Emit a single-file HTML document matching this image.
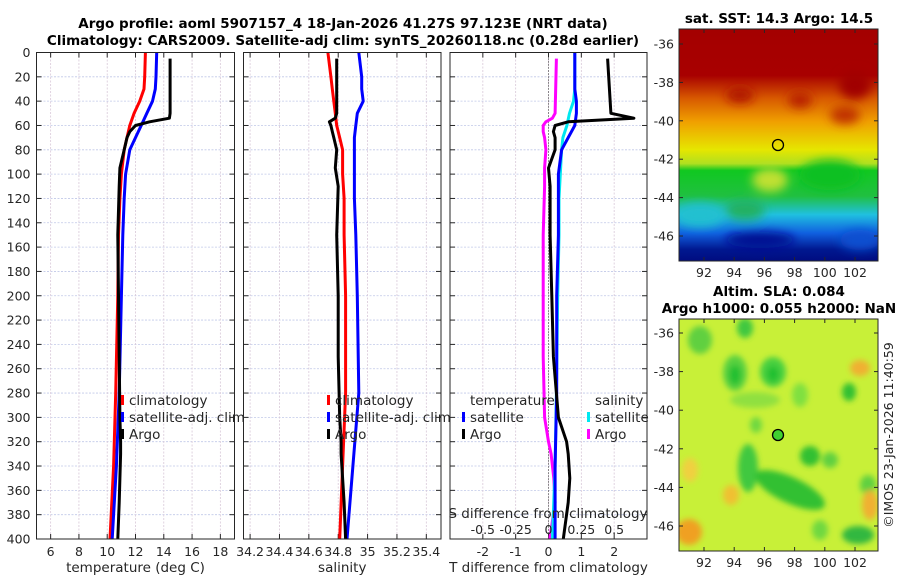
<!DOCTYPE html>
<html><head><meta charset="utf-8"><style>
body{margin:0;background:#fff;}
svg{display:block;font-family:"DejaVu Sans","Liberation Sans",sans-serif;}
.tk{font-size:12.5px;fill:#262626;}
.tt{font-size:13.5px;font-weight:bold;fill:#000;}
</style></head><body>
<svg id="c" width="900" height="580" viewBox="0 0 900 580">
<defs>
<filter id="bl"><feGaussianBlur stdDeviation="5"/></filter>
<filter id="bl2"><feGaussianBlur stdDeviation="3"/></filter>
<clipPath id="m1"><rect x="679" y="29" width="199" height="232"/></clipPath>
<clipPath id="m2"><rect x="679" y="319" width="199" height="232"/></clipPath>
<linearGradient id="sstg" x1="0" y1="0" x2="0" y2="1">
<stop offset="0" stop-color="#a40000"/><stop offset="0.2" stop-color="#a80000"/>
<stop offset="0.3" stop-color="#d85a00"/><stop offset="0.4" stop-color="#f0a000"/>
<stop offset="0.52" stop-color="#e6e600"/><stop offset="0.58" stop-color="#b0e020"/>
<stop offset="0.61" stop-color="#10c820"/><stop offset="0.72" stop-color="#20c040"/>
<stop offset="0.8" stop-color="#20c0e0"/><stop offset="0.88" stop-color="#1060e0"/>
<stop offset="0.95" stop-color="#001890"/><stop offset="1" stop-color="#000c80"/>
</linearGradient>
</defs>
<text class="tt" x="343" y="28" text-anchor="middle">Argo profile: aoml 5907157_4 18-Jan-2026 41.27S 97.123E (NRT data)</text>
<text class="tt" x="343" y="45" text-anchor="middle">Climatology: CARS2009. Satellite-adj clim: synTS_20260118.nc (0.28d earlier)</text>

<g id="map1">
<text class="tt" x="779" y="23" text-anchor="middle">sat. SST: 14.3 Argo: 14.5</text>
<g clip-path="url(#m1)">
<rect x="679" y="29" width="199" height="232" fill="url(#sstg)"/>
<g filter="url(#bl)">
<ellipse cx="740" cy="95" rx="14" ry="8" fill="#b01800"/>
<ellipse cx="800" cy="100" rx="12" ry="8" fill="#b82000"/>
<ellipse cx="855" cy="85" rx="16" ry="14" fill="#a00000"/>
<ellipse cx="845" cy="115" rx="15" ry="9" fill="#c03000"/>
<ellipse cx="830" cy="175" rx="30" ry="15" fill="#10c020"/>
<ellipse cx="770" cy="180" rx="18" ry="12" fill="#c0e030"/>
<ellipse cx="700" cy="215" rx="25" ry="12" fill="#20c0d0"/>
<ellipse cx="745" cy="210" rx="20" ry="10" fill="#20b060"/>
<ellipse cx="760" cy="240" rx="35" ry="8" fill="#001090"/>
<ellipse cx="860" cy="240" rx="20" ry="10" fill="#1050d0"/>
</g>
</g>
<rect x="679" y="29" width="199" height="232" fill="none" stroke="#262626"/>
<circle cx="778" cy="145" r="5.5" fill="none" stroke="#000" stroke-width="1.3"/>
</g>

<g id="map2">
<text class="tt" x="779" y="296" text-anchor="middle">Altim. SLA: 0.084</text>
<text class="tt" x="779" y="313" text-anchor="middle">Argo h1000: 0.055 h2000: NaN</text>
<g clip-path="url(#m2)">
<rect x="679" y="319" width="199" height="232" fill="#c8f038"/>
<g filter="url(#bl2)">
<ellipse cx="735" cy="373" rx="12" ry="18" fill="#58d040"/>
<ellipse cx="773" cy="372" rx="13" ry="15" fill="#48d040"/>
<ellipse cx="735" cy="375" rx="6" ry="10" fill="#20c030"/>
<ellipse cx="773" cy="374" rx="6" ry="8" fill="#20c030"/>
<ellipse cx="748" cy="468" rx="10" ry="24" fill="#40c840"/>
<ellipse cx="790" cy="490" rx="38" ry="13" fill="#30c030" transform="rotate(25 790 490)"/>
<ellipse cx="810" cy="456" rx="10" ry="10" fill="#30c030"/>
<ellipse cx="849" cy="392" rx="7" ry="9" fill="#30c030"/>
<ellipse cx="830" cy="460" rx="8" ry="8" fill="#60d040"/>
<ellipse cx="800" cy="395" rx="8" ry="12" fill="#80e040"/>
<ellipse cx="755" cy="400" rx="25" ry="8" fill="#90e040"/>
<ellipse cx="756" cy="425" rx="6" ry="8" fill="#70d840"/>
<ellipse cx="700" cy="340" rx="12" ry="14" fill="#60d040"/>
<ellipse cx="745" cy="328" rx="8" ry="10" fill="#40c840"/>
<ellipse cx="820" cy="530" rx="8" ry="10" fill="#70d840"/>
<ellipse cx="868" cy="485" rx="8" ry="10" fill="#60d040"/>
<ellipse cx="858" cy="535" rx="16" ry="9" fill="#30b840"/>
<ellipse cx="689" cy="532" rx="13" ry="13" fill="#f0a020"/>
<ellipse cx="860" cy="368" rx="10" ry="8" fill="#f0b030"/>
<ellipse cx="870" cy="505" rx="8" ry="15" fill="#f0b030"/>
<ellipse cx="731" cy="495" rx="8" ry="10" fill="#f0c030"/>
<ellipse cx="690" cy="470" rx="8" ry="12" fill="#f0d040"/>
</g>
</g>
<rect x="679" y="319" width="199" height="232" fill="none" stroke="#262626"/>
<circle cx="778" cy="435" r="5.5" fill="#40d030" stroke="#000" stroke-width="1.3"/>
<text class="tk" x="893" y="435" text-anchor="middle" transform="rotate(-90 893 435)">©IMOS 23-Jan-2026 11:40:59</text>
</g>
</svg>
<script>
// ---- data ----
const depthsClim = [0,20,30,40,50,60,70,80,100,120,150,200,280,340,400];
const tempClim   = [12.7,12.65,12.6,12.3,11.9,11.6,11.4,11.2,11.0,10.9,10.8,10.75,10.6,10.45,10.2];
const tempSat    = [13.5,13.45,13.4,13.2,12.8,12.4,12.0,11.6,11.3,11.2,11.1,11.0,10.85,10.65,10.35];
const depthsArgo = [5,50,54,57,60,65,70,80,95,110,150,200,250,300,320,330,350,370,400];
const tempArgo   = [14.45,14.45,14.4,13.0,12.0,11.6,11.4,11.2,10.9,10.85,10.75,10.8,10.85,10.9,10.95,10.95,10.9,10.85,10.75];
const salClim    = [34.73,34.75,34.76,34.77,34.78,34.79,34.81,34.83,34.83,34.84,34.84,34.85,34.85,34.83,34.81];
const salSat     = [34.94,34.96,34.96,34.97,34.93,34.92,34.91,34.91,34.91,34.91,34.92,34.93,34.94,34.9,34.86];
const salArgo    = [34.79,34.79,34.78,34.74,34.75,34.76,34.77,34.79,34.78,34.8,34.79,34.8,34.8,34.81,34.82,34.82,34.83,34.84,34.85];
const dTSat      = [0.8,0.8,0.8,0.85,0.85,0.8,0.6,0.4,0.3,0.3,0.3,0.25,0.25,0.2,0.2];
const dTArgo     = [1.8,1.9,2.6,0.6,0.2,0.15,0.2,0.2,0.0,0.05,0.05,0.1,0.15,0.3,0.55,0.6,0.65,0.6,0.45];
const dSSat      = [0.2,0.2,0.2,0.19,0.16,0.14,0.11,0.1,0.09,0.08,0.08,0.07,0.06,0.05,0.03];
const dSArgo     = [0.06,0.05,0.03,-0.02,-0.04,-0.04,-0.03,-0.02,-0.03,-0.03,-0.04,-0.04,-0.04,-0.03,0.0,0.02,0.04,0.05,0.01];
const depthTicks = [0,20,40,60,80,100,120,140,160,180,200,220,240,260,280,300,320,340,360,380,400];
const tempTicks  = [6,8,10,12,14,16,18];
const salTicks   = [34.2,34.4,34.6,34.8,35,35.2,35.4];
const dTTicks    = [-2,-1,0,1,2];
const dSTicks    = [-0.5,-0.25,0,0.25,0.5];
const mapLonTicks = [92,94,96,98,100,102];
const mapLatTicks = [-36,-38,-40,-42,-44,-46];

const NS='http://www.w3.org/2000/svg';
const svg=document.getElementById('c');
function mk(tag,attrs,parent){const e=document.createElementNS(NS,tag);for(const k in attrs)e.setAttribute(k,attrs[k]);(parent||svg).appendChild(e);return e;}
const Y0=52.5,Y1=539;
const yD=d=>Y0+(d/400)*(Y1-Y0);
const panels=[
 {x0:36.5,x1:234.5,lo:5,hi:19,ticks:tempTicks,label:'temperature (deg C)',name:'temperature'},
 {x0:243.5,x1:441,lo:34.155,hi:35.5,ticks:salTicks,label:'salinity',name:'salinity'},
 {x0:450,x1:647,lo:-3,hi:3,ticks:dTTicks,label:'T difference from climatology',name:'difference'}
];
panels.forEach((p,i)=>{
 p.sx=v=>p.x0+(v-p.lo)/(p.hi-p.lo)*(p.x1-p.x0);
 const g=mk('g',{});
 
 
 p.g=g;
 depthTicks.forEach(d=>{
  mk('line',{x1:p.x0,x2:p.x1,y1:yD(d),y2:yD(d),stroke:'#c0c8e8','stroke-width':0.8,'stroke-dasharray':'2,1.5'},g);
  mk('line',{x1:p.x0,x2:p.x0+5,y1:yD(d),y2:yD(d),stroke:'#262626'},g);
  mk('line',{x1:p.x1,x2:p.x1-5,y1:yD(d),y2:yD(d),stroke:'#262626'},g);
  if(i===0){const t=mk('text',{x:p.x0-6,y:yD(d)+4.5,'text-anchor':'end',class:'tk'},g);t.textContent=d;
   
   }
 });
 p.ticks.forEach(v=>{
  const x=p.sx(v);
  mk('line',{x1:x,x2:x,y1:Y0,y2:Y1,stroke:'#d8c8d8','stroke-width':0.8,'stroke-dasharray':'2,1.5'},g);
  mk('line',{x1:x,x2:x,y1:Y1,y2:Y1-5,stroke:'#262626'},g);
  mk('line',{x1:x,x2:x,y1:Y0,y2:Y0+5,stroke:'#262626'},g);
  const t=mk('text',{x:x,y:556,'text-anchor':'middle',class:'tk'},g);t.textContent=v;
  
  
 });
 const t=mk('text',{x:(p.x0+p.x1)/2,y:572,'text-anchor':'middle',class:'tk',style:'font-size:13.5px'},g);t.textContent=p.label;
 
 
});
function line(p,xs,ds,col,name,f){
 const pts=xs.map((v,k)=>p.sx(f?f(v):v).toFixed(1)+','+yD(ds[k]).toFixed(1)).join(' ');
 const e=mk('polyline',{points:pts,fill:'none',stroke:col,'stroke-width':3,'stroke-linejoin':'round'},p.g);
 
 
}
const [P1,P2,P3]=panels;
line(P1,tempClim,depthsClim,'#ff0000','temp-climatology-line');
line(P1,tempSat,depthsClim,'#0000ff','temp-satellite-line');
line(P1,tempArgo,depthsArgo,'#000','temp-argo-line');
line(P2,salClim,depthsClim,'#ff0000','sal-climatology-line');
line(P2,salSat,depthsClim,'#0000ff','sal-satellite-line');
line(P2,salArgo,depthsArgo,'#000','sal-argo-line');
mk('line',{x1:P3.sx(0),x2:P3.sx(0),y1:Y0,y2:Y1,stroke:'#333','stroke-dasharray':'1,2'},P3.g);
const sS=v=>v*4;
line(P3,dSArgo,depthsArgo,'#ff00ff','dsal-argo-line',sS);
line(P3,dSSat,depthsClim,'#00e8f0','dsal-satellite-line',sS);
line(P3,dTSat,depthsClim,'#0000ff','dtemp-satellite-line');
line(P3,dTArgo,depthsArgo,'#000','dtemp-argo-line');
dSTicks.forEach(v=>{const t=mk('text',{x:P3.sx(v*4),y:534,'text-anchor':'middle',class:'tk'},P3.g);t.textContent=v;
 
 });
{const t=mk('text',{x:548,y:518,'text-anchor':'middle',class:'tk',style:'font-size:13.5px'},P3.g);t.textContent='S difference from climatology';
 
 }
panels.forEach(p=>mk('rect',{x:p.x0,y:Y0,width:p.x1-p.x0,height:Y1-Y0,fill:'none',stroke:'#262626'},p.g));
function leg(x,y,col,txt,name){
 const g=mk('g',{});
 
 
 if(col)mk('rect',{x:x,y:y-10,width:3,height:10,fill:col},g);
 const t=mk('text',{x:x+(col?8:0),y:y,class:'tk',style:'font-size:13.5px'},g);t.textContent=txt;
}
leg(121,405,'#ff0000','climatology','legend-climatology');
leg(121,422,'#0000ff','satellite-adj. clim','legend-satellite-adj');
leg(121,439,'#000','Argo','legend-argo');
leg(327,405,'#ff0000','climatology','legend-sal-climatology');
leg(327,422,'#0000ff','satellite-adj. clim','legend-sal-satellite-adj');
leg(327,439,'#000','Argo','legend-sal-argo');
leg(470,405,null,'temperature','legend-temperature-header');
leg(462,422,'#0000ff','satellite','legend-dtemp-satellite');
leg(462,439,'#000','Argo','legend-dtemp-argo');
leg(595,405,null,'salinity','legend-salinity-header');
leg(587,422,'#00e8f0','satellite','legend-dsal-satellite');
leg(587,439,'#ff00ff','Argo','legend-dsal-argo');
[[29,261,44,236],[319,551,333,526]].forEach(([t0,t1,la,lb],mi)=>{
 const g=mk('g',{});
 
 
 mapLatTicks.forEach(v=>{const y=la+(-36-v)/10*(lb-la);
  mk('line',{x1:679,x2:683,y1:y,y2:y,stroke:'#262626'},g);
  mk('line',{x1:878,x2:874,y1:y,y2:y,stroke:'#262626'},g);
  const t=mk('text',{x:674,y:y+4.5,'text-anchor':'end',class:'tk'},g);t.textContent=v;});
 mapLonTicks.forEach(v=>{const x=704+(v-92)/10*151;
  mk('line',{x1:x,x2:x,y1:t1,y2:t1-4,stroke:'#262626'},g);
  mk('line',{x1:x,x2:x,y1:t0,y2:t0+4,stroke:'#262626'},g);
  const t=mk('text',{x:x,y:t1+16,'text-anchor':'middle',class:'tk'},g);t.textContent=v;});
});
</script>
</body></html>
